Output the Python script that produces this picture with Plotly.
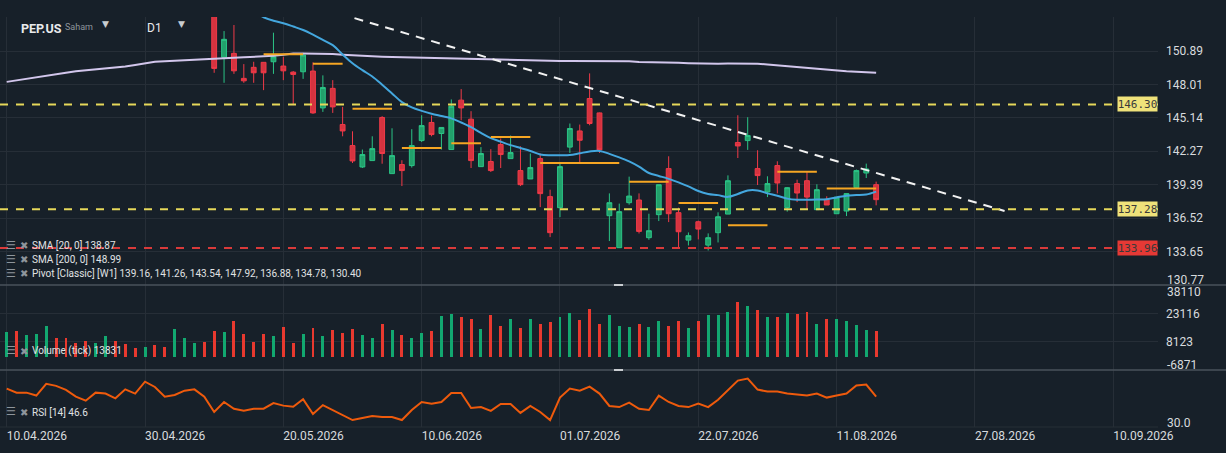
import plotly.graph_objects as go
from plotly.subplots import make_subplots

# --- data --------------------------------------------------------------------
DATE_TICKS = [0, 14, 28, 42, 56, 70, 84, 98, 112]
DATE_LABELS = ['10.04.2026', '30.04.2026', '20.05.2026', '10.06.2026', '01.07.2026',
               '22.07.2026', '11.08.2026', '27.08.2026', '10.09.2026']

PRICE_TICKS = [133.65, 136.52, 139.39, 142.27, 145.14, 148.01, 150.89]
VOLUME_TICKS = [8123, 23116]

FIRST_CANDLE = 21  # earlier candles sit above the visible price range
OPEN = [154.60, 150.35, 150.69, 148.54, 149.49, 149.92, 149.97, 149.60, 149.08, 149.11,
        149.17, 146.00, 147.68, 144.57, 142.76, 140.92, 141.47, 145.18, 140.35, 141.13,
        141.04, 143.19, 144.75, 143.80, 142.42, 146.67, 145.03, 140.95, 141.39, 142.85,
        141.64, 140.61, 139.89, 141.64, 138.37, 137.42, 142.63, 144.02, 146.81, 145.57,
        136.73, 133.98, 137.85, 138.08, 134.84, 136.82, 140.78, 136.99, 134.63, 136.21,
        134.20, 135.27, 136.87, 143.02, 143.19, 140.78, 138.77, 141.04, 137.42, 139.49,
        139.74, 137.25, 138.11, 136.90, 137.13, 139.14, 140.40, 139.40]
HIGH = [155.00, 152.61, 153.13, 149.77, 149.97, 149.95, 152.47, 150.40, 149.17, 150.74,
        149.92, 148.80, 148.39, 146.09, 143.99, 142.42, 143.56, 145.29, 144.25, 141.50,
        144.17, 145.37, 145.34, 144.32, 146.73, 147.62, 145.72, 142.63, 142.45, 143.37,
        143.62, 142.70, 142.08, 142.08, 138.97, 141.21, 144.66, 144.57, 148.97, 145.60,
        138.65, 137.77, 140.09, 138.65, 136.90, 139.40, 141.84, 137.42, 135.29, 136.30,
        135.21, 137.02, 140.20, 145.37, 145.20, 142.36, 140.12, 141.41, 139.20, 139.83,
        140.49, 139.43, 138.40, 138.33, 138.63, 140.70, 141.21, 139.66]
LOW = [149.02, 148.16, 148.93, 148.16, 148.16, 147.53, 148.93, 148.39, 146.24, 148.50,
       145.49, 145.66, 145.57, 143.56, 141.26, 140.83, 141.47, 141.20, 140.35, 139.28,
       140.87, 143.07, 143.56, 142.42, 142.42, 144.94, 140.83, 140.95, 140.49, 140.83,
       141.64, 139.28, 139.89, 137.47, 134.89, 136.61, 142.13, 141.30, 144.51, 142.13,
       134.55, 133.98, 137.68, 135.20, 134.66, 136.27, 136.18, 133.89, 134.17, 134.69,
       133.74, 134.43, 136.87, 141.69, 142.39, 139.37, 138.33, 138.65, 137.08, 137.90,
       137.25, 137.25, 137.65, 136.90, 136.70, 139.14, 139.97, 137.62]
CLOSE = [149.40, 151.90, 149.19, 148.33, 149.02, 149.02, 150.40, 149.19, 148.88, 150.55,
         145.57, 147.76, 146.09, 144.02, 141.44, 141.99, 142.50, 142.08, 141.90, 140.61,
         142.76, 144.48, 143.71, 144.32, 146.15, 146.00, 141.47, 142.08, 140.61, 141.99,
         142.16, 139.40, 140.87, 138.63, 135.27, 140.95, 144.23, 143.22, 144.66, 142.39,
         137.85, 137.08, 138.42, 135.38, 135.44, 139.40, 136.90, 135.35, 135.01, 135.58,
         134.84, 136.64, 139.74, 142.73, 143.63, 140.18, 139.49, 139.54, 139.14, 138.68,
         138.33, 138.97, 137.65, 138.33, 138.63, 140.61, 140.75, 138.11]

SMA20_START = 25
SMA20 = [154.30, 153.80, 153.50, 153.28, 153.00, 152.70, 152.30, 151.85, 151.40, 150.60,
         149.85, 149.25, 148.70, 148.00, 147.25, 146.50, 146.05, 145.75, 145.50, 145.30,
         145.10, 144.75, 144.35, 143.85, 143.40, 143.10, 142.80, 142.55, 142.30, 142.00,
         141.93, 141.93, 141.95, 142.10, 142.25, 142.30, 142.05, 141.75, 141.40, 140.95,
         140.40, 140.15, 139.90, 139.60, 139.25, 138.85, 138.60, 138.50, 138.35, 138.60,
         138.90, 138.90, 138.65, 138.45, 138.20, 138.10, 138.10, 138.12, 138.15, 138.30,
         138.45, 138.50, 138.55, 138.80]
SMA200 = [148.24, 148.38, 148.50, 148.62, 148.74, 148.88, 149.02, 149.15, 149.24, 149.32,
          149.38, 149.45, 149.56, 149.70, 149.83, 149.98, 150.02, 150.07, 150.11, 150.15,
          150.19, 150.23, 150.27, 150.31, 150.35, 150.38, 150.40, 150.48, 150.58, 150.67,
          150.69, 150.69, 150.68, 150.64, 150.58, 150.52, 150.47, 150.43, 150.40, 150.37,
          150.35, 150.33, 150.31, 150.29, 150.27, 150.25, 150.23, 150.21, 150.18, 150.15,
          150.12, 150.09, 150.07, 150.05, 150.05, 150.04, 150.04, 150.04, 150.04, 150.04,
          150.05, 150.04, 150.03, 150.02, 149.95, 149.94, 149.94, 149.94, 149.88, 149.85,
          149.82, 149.80, 149.80, 149.81, 149.82, 149.83, 149.80, 149.73, 149.66, 149.59,
          149.52, 149.45, 149.36, 149.25, 149.18, 149.15, 149.12, 149.07, 149.02]

PIVOT_START = [26, 31, 35, 40, 45, 49, 54, 63, 68, 73, 78, 83]
PIVOT_END = [30, 34, 39, 44, 48, 53, 62, 67, 72, 77, 82, 88]
PIVOT_LEVEL = [150.61, 149.80, 145.92, 142.56, 142.96, 143.50, 141.27, 139.66, 137.82,
               135.90, 140.51, 139.08]

LEVELS = [146.30, 137.28, 133.96]
TREND_X = [35.2, 101.0]
TREND_Y = [153.72, 137.13]

VOLUME = [13060, 13750, 11640, 12170, 16400, 10050, 10050, 7400, 8460, 7580,
          11110, 8460, 6880, 4940, 5290, 6350, 5290, 14810, 10050, 7580,
          7940, 13750, 13230, 19040, 12340, 8110, 12170, 11110, 15870, 7580,
          12170, 15340, 11110, 14280, 12700, 14810, 11640, 10050, 17460, 14280,
          11640, 10050, 12700, 13750, 21690, 22750, 21320, 20100, 14810, 22220,
          16400, 20100, 15340, 20100, 17460, 18520, 21160, 23280, 19570, 25390,
          17460, 22220, 16400, 15870, 17460, 15870, 19040, 16400, 19040, 15340,
          19040, 22220, 22220, 23810, 29100, 26980, 24860, 21160, 21160, 23280,
          22750, 23810, 17460, 20100, 20100, 19040, 16930, 14280, 13831]
VOLUME_UP = [1, 0, 1, 1, 1, 0, 0, 0, 0, 1, 1, 0, 0, 0, 1, 0, 0, 1, 1, 1, 0,
             0, 1, 0, 0, 0, 0, 1, 0, 0, 1,
             0, 1, 0, 0, 0, 1, 1, 0, 1, 0,
             1, 1, 0, 1, 1, 0, 0, 1, 0, 0,
             1, 0, 1, 0, 0, 1, 1, 0, 0, 0,
             1, 1, 1, 0, 1, 1, 0, 0, 1, 0,
             1, 1, 1, 0, 1, 0, 1, 0, 1, 0,
             0, 1, 0, 1, 1, 1, 1, 0]

RSI = [51.0, 48.8, 48.8, 47.2, 53.6, 52.5, 50.3, 46.6, 44.4, 48.8,
       48.3, 45.7, 50.6, 48.3, 54.8, 51.9, 46.6, 47.5, 49.9, 50.6,
       46.6, 38.2, 43.7, 40.0, 38.9, 40.0, 40.0, 43.1, 41.7, 41.1,
       45.2, 37.1, 42.0, 39.3, 36.6, 33.8, 34.9, 36.0, 35.5, 35.5,
       33.8, 39.3, 43.7, 42.8, 43.7, 48.6, 48.6, 40.4, 40.9, 38.8,
       42.6, 42.6, 37.7, 41.5, 38.2, 33.8, 46.1, 51.0, 49.9, 52.1,
       48.3, 41.5, 40.9, 43.3, 40.0, 39.3, 47.2, 43.7, 41.5, 40.9,
       42.8, 40.9, 44.9, 50.3, 55.4, 56.5, 50.5, 49.4, 49.4, 48.3,
       47.7, 47.2, 48.3, 46.1, 47.2, 48.3, 52.7, 53.2, 46.6]

# --- styling ---------------------------------------------------------------
BG = '#172029'
GRID = '#262e37'
TEXT = '#d8dbde'
MUTED = '#8e959c'
FONT = 'Roboto'
UP_FILL, UP_LINE = '#22a06b', '#2bc486'
DOWN_FILL, DOWN_LINE = '#d5333f', '#f03a48'

W, H = 1226, 453
PLOT_W, PLOT_TOP, PLOT_BOTTOM = 1158, 17, 427
PLOT_H = PLOT_BOTTOM - PLOT_TOP


def px_x(px):
    return px / PLOT_W


def px_y(py):
    return (PLOT_BOTTOM - py) / PLOT_H


idx_all = list(range(len(VOLUME)))
idx_candles = list(range(FIRST_CANDLE, FIRST_CANDLE + len(OPEN)))
idx_sma20 = list(range(SMA20_START, SMA20_START + len(SMA20)))

fig = make_subplots(rows=3, cols=1, shared_xaxes=True, vertical_spacing=0,
                    row_heights=[268, 85, 57])

fig.add_trace(go.Candlestick(
    x=idx_candles, open=OPEN, high=HIGH, low=LOW, close=CLOSE,
    increasing=dict(fillcolor=UP_FILL, line=dict(color=UP_LINE, width=1)),
    decreasing=dict(fillcolor=DOWN_FILL, line=dict(color=DOWN_LINE, width=1)),
    whiskerwidth=0, showlegend=False, hoverinfo='skip'), row=1, col=1)

fig.add_trace(go.Scatter(x=idx_all, y=SMA200, mode='lines',
                         line=dict(color='#d2c6ec', width=2), showlegend=False,
                         hoverinfo='skip'), row=1, col=1)
fig.add_trace(go.Scatter(x=idx_sma20, y=SMA20, mode='lines',
                         line=dict(color='#44a7de', width=2, shape='spline'),
                         showlegend=False, hoverinfo='skip'), row=1, col=1)

for s, e, lvl in zip(PIVOT_START, PIVOT_END, PIVOT_LEVEL):
    fig.add_trace(go.Scatter(x=[s, e], y=[lvl, lvl], mode='lines',
                             line=dict(color='#f6a623', width=2), showlegend=False,
                             hoverinfo='skip'), row=1, col=1)

fig.add_trace(go.Scatter(x=TREND_X, y=TREND_Y, mode='lines',
                         line=dict(color='#f2f2f2', width=2, dash='9px,7px'),
                         showlegend=False, hoverinfo='skip'), row=1, col=1)

fig.add_trace(go.Bar(x=idx_all, y=VOLUME, width=0.3,
                     marker=dict(color=['#12a870' if u else '#e8392f' for u in VOLUME_UP],
                                 line=dict(width=0)),
                     showlegend=False, hoverinfo='skip'), row=2, col=1)

fig.add_trace(go.Scatter(x=idx_all, y=RSI, mode='lines',
                         line=dict(color='#ee5a0c', width=2), showlegend=False,
                         hoverinfo='skip'), row=3, col=1)

# horizontal levels with their price boxes
level_colors = ['#e6d85a', '#e6d85a', '#d93a3a']
box_colors = ['#efe27a', '#efe27a', '#e53935']
for lvl, lc, bc in zip(LEVELS, level_colors, box_colors):
    fig.add_shape(type='line', xref='paper', x0=0, x1=1, yref='y', y0=lvl, y1=lvl,
                  line=dict(color=lc, width=2, dash='8px,8px'))
    fig.add_annotation(xref='paper', x=1, xanchor='right', yref='y', y=lvl,
                       text=f'{lvl:.2f}', showarrow=False, bgcolor=bc,
                       width=39, height=14, borderpad=0,
                       font=dict(family='DejaVu Sans Mono', size=11, color='#3a3a3a'))

# panel separators and drag handles
for py in (285, 370):
    fig.add_shape(type='line', xref='paper', x0=0, x1=W / PLOT_W, yref='paper',
                  y0=px_y(py), y1=px_y(py), line=dict(color='#4a525b', width=1.5))
    fig.add_shape(type='line', xref='paper', x0=px_x(614), x1=px_x(623), yref='paper',
                  y0=px_y(py), y1=px_y(py), line=dict(color='#c9cdd1', width=2))
fig.add_shape(type='line', xref='paper', x0=0, x1=1, yref='paper', y0=0, y1=0,
              line=dict(color=GRID, width=1))

# edge tick labels that sit inside their panel
edge_labels = [('y', 130.77, '130.77', 5), ('y2', 38110, '38110', -7),
               ('y2', -6871, '-6871', 5), ('y3', 30, '30.0', 4)]
for yref, val, txt, shift in edge_labels:
    fig.add_annotation(xref='paper', x=1, xanchor='left', xshift=7, yref=yref, y=val,
                       yshift=shift, text=txt, showarrow=False,
                       font=dict(family=FONT, size=12, color=TEXT))

# header
fig.add_annotation(xref='paper', yref='paper', x=px_x(19), y=px_y(19), xanchor='left',
                   text='<b>PEP.US</b>', showarrow=False,
                   font=dict(family=FONT, size=12.5, color='#e8eaec'))
fig.add_annotation(xref='paper', yref='paper', x=px_x(63), y=px_y(20), xanchor='left',
                   text='Saham', showarrow=False, font=dict(family=FONT, size=9, color=MUTED))
fig.add_annotation(xref='paper', yref='paper', x=px_x(145), y=px_y(19), xanchor='left',
                   text='D1', showarrow=False, font=dict(family=FONT, size=12, color='#e8eaec'))
for tx in (100, 176):
    fig.add_annotation(xref='paper', yref='paper', x=px_x(tx), y=px_y(17),
                       text='▼', showarrow=False,
                       font=dict(family='DejaVu Sans', size=9, color='#c8ccd0'))

# indicator legends
legend_rows = [(245, 'SMA [20, 0] 138.87'), (259, 'SMA [200, 0] 148.99'),
               (273, 'Pivot [Classic] [W1] 139.16, 141.26, 143.54, 147.92, 136.88, 134.78, 130.40'),
               (359, 'Volume (tick) 13831'), (420, 'RSI [14] 46.6')]
for py, txt in legend_rows:
    fig.add_annotation(xref='paper', yref='paper', x=px_x(4), y=px_y(py), xanchor='left',
                       text='<b>☰</b>', showarrow=False,
                       font=dict(family='DejaVu Sans', size=11, color=MUTED))
    fig.add_annotation(xref='paper', yref='paper', x=px_x(18), y=px_y(py), xanchor='left',
                       text='✖', showarrow=False,
                       font=dict(family='DejaVu Sans', size=10, color=MUTED))
    fig.add_annotation(xref='paper', yref='paper', x=px_x(30), y=px_y(py), xanchor='left',
                       text=txt, showarrow=False,
                       font=dict(family=FONT, size=10, color='#e0e2e4'))

x_range = [-6.7 / 9.88, -6.7 / 9.88 + PLOT_W / 9.88]
fig.update_xaxes(range=x_range, tickvals=DATE_TICKS, showgrid=True, gridcolor=GRID,
                 gridwidth=1, zeroline=False, showline=False, ticks='',
                 rangeslider_visible=False)
fig.update_xaxes(ticktext=DATE_LABELS, ticklabelposition='outside right',
                 tickfont=dict(family=FONT, size=12, color=TEXT), row=3, col=1)

axis_common = dict(side='right', showgrid=True, gridcolor=GRID, zeroline=False,
                   showline=False, ticks='', ticklabelstandoff=7,
                   tickfont=dict(family=FONT, size=12, color=TEXT))
fig.update_layout(
    yaxis=dict(range=[130.77, 153.82], tickvals=PRICE_TICKS,
               ticktext=[f'{v:.2f}' for v in PRICE_TICKS],
               domain=[142 / PLOT_H, 1], **axis_common),
    yaxis2=dict(range=[-6871, 38110], tickvals=VOLUME_TICKS,
                ticktext=[str(v) for v in VOLUME_TICKS],
                domain=[57 / PLOT_H, 142 / PLOT_H], **axis_common),
    yaxis3=dict(range=[30, 61.2], tickvals=[], domain=[0, 57 / PLOT_H], **axis_common),
)

fig.update_layout(width=W, height=H, paper_bgcolor=BG, plot_bgcolor=BG,
                  margin=dict(l=0, r=W - PLOT_W, t=PLOT_TOP, b=H - PLOT_BOTTOM),
                  showlegend=False, bargap=0, hovermode=False)

fig.write_html('out.html', config={'displayModeBar': False},
               post_script="document.body.style.margin='0px';"
                           "document.body.style.background='" + BG + "';")
